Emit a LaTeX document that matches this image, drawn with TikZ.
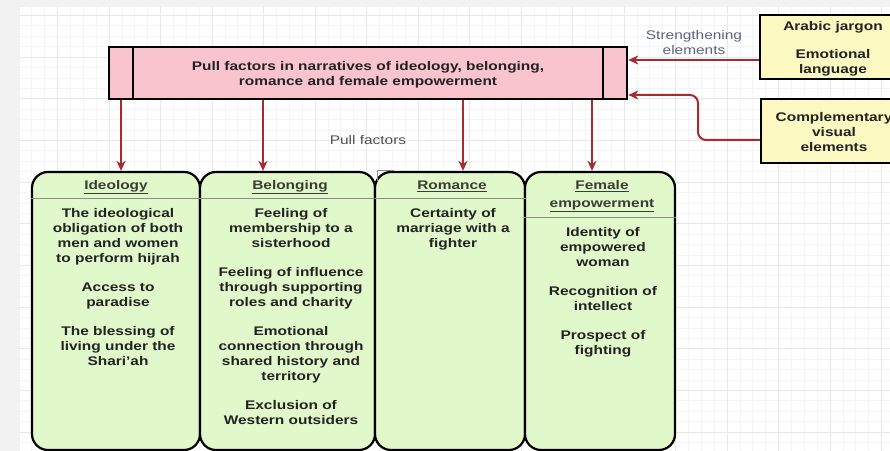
\documentclass[tikz,border=0pt]{standalone}
\usepackage{fontspec}
\setmainfont{Liberation Sans}[FakeStretch=1.235]
\usetikzlibrary{arrows.meta}
\definecolor{pinkfill}{HTML}{F9C4CE}
\definecolor{greenfill}{HTML}{E1F8CB}
\definecolor{yellowfill}{HTML}{FBF8C2}
\definecolor{arrowred}{HTML}{A62A2E}
\definecolor{pagegray}{HTML}{F2F2F2}
\definecolor{gridmajor}{HTML}{E8E8E8}
\definecolor{gridminor}{HTML}{F4F4F4}
\definecolor{labelblue}{HTML}{5A6380}
\definecolor{labelgray}{HTML}{505050}
\definecolor{textdark}{HTML}{222222}
\definecolor{headdark}{HTML}{3A3D32}
\definecolor{divgray}{HTML}{8A8A8A}
\begin{document}
\begin{tikzpicture}[x=1bp,y=-1bp,
  txt/.style={font=\fontsize{12.5bp}{15bp}\selectfont\bfseries, text=textdark, align=center, inner sep=0pt, anchor=north},
  headtxt/.style={font=\fontsize{12.5bp}{18bp}\selectfont\bfseries, text=headdark, align=center, inner sep=0pt, anchor=north},
  lbl/.style={font=\fontsize{12.5bp}{15bp}\selectfont, align=center, inner sep=0pt, anchor=north},
  colbox/.style={draw=black, line width=2.2bp, fill=greenfill, rounded corners=16bp, inner sep=0pt, minimum height=278bp},
  yelbox/.style={draw=black, line width=2.5bp, fill=yellowfill, inner sep=0pt, minimum height=64bp, minimum width=146bp},
  redarrow/.style={draw=arrowred, line width=2bp, -{Stealth[length=10bp,width=9bp,inset=3bp]}},
  divider/.style={draw=divgray, line width=0.8bp},
 ]
\useasboundingbox (0,0) rectangle (890,451);
\clip (0,0) rectangle (890,451);
% page and grid
\fill[pagegray] (0,0) rectangle (890,451);
\fill[white] (20,7) rectangle (890,451);
\foreach \k in {2,...,68} {\draw[gridminor, line width=0.6bp] ({6+12.875*\k},7) -- ({6+12.875*\k},451);}
\foreach \k in {0,...,42} {\draw[gridminor, line width=0.6bp] (20,{15.3+10.4175*\k}) -- (890,{15.3+10.4175*\k});}
\foreach \m in {1,...,17} {\draw[gridmajor, line width=0.8bp] ({6+51.5*\m},7) -- ({6+51.5*\m},451);}
\foreach \m in {0,...,10} {\draw[gridmajor, line width=0.8bp] (20,{15.3+41.67*\m}) -- (890,{15.3+41.67*\m});}

% main pink box
\node[draw=black, line width=2.5bp, fill=pinkfill, minimum width=518bp, minimum height=52bp, inner sep=0pt] (pull) at (368,73) {};
\draw[black, line width=2.2bp] ([xshift=25bp]pull.north west) -- ([xshift=25bp]pull.south west);
\draw[black, line width=2.2bp] ([xshift=-25bp]pull.north east) -- ([xshift=-25bp]pull.south east);
\node[txt] (pulltxt) at (368,61.4) {Pull factors in narratives of ideology, belonging,\\romance and female empowerment};

% yellow boxes
\node[yelbox] (arabic) at (833,47) {};
\node[txt] (arabictxt) at (833,21.4) {Arabic jargon\\[13bp]Emotional\\language};
\node[yelbox] (comp) at (834,131) {};
\node[txt] (comptxt) at (834,112.4) {Complementary\\visual\\elements};

% labels
\node[lbl, text=labelblue] (strength) at (694,30.4) {Strengthening\\elements};
\node[lbl, text=labelgray] (pflabel) at (368,135.4) {Pull factors};

% columns
\node[colbox, minimum width=168bp] (ideo) at (116,311) {};
\node[colbox, minimum width=175bp] (belong) at (287.5,311) {};
\node[colbox, minimum width=150bp] (roman) at (450,311) {};
\node[colbox, minimum width=150bp] (female) at (600,311) {};

% small gray corner at Romance
\draw[divgray, line width=0.6bp] (377,181) -- (377,170.5) -- (394,170.5);

% dividers
\draw[divider] (ideo.west |- 0,198) -- (ideo.east |- 0,198);
\draw[divider] (belong.west |- 0,198) -- (belong.east |- 0,198);
\draw[divider] (roman.west |- 0,198) -- (roman.east |- 0,198);
\draw[divider] (female.west |- 0,217) -- (female.east |- 0,217);

% headers
\node[headtxt] (ideohead) at (116,180.4) {\underline{Ideology}};
\node[headtxt] (belonghead) at (290,180.4) {\underline{Belonging}};
\node[headtxt] (romanhead) at (452,180.4) {\underline{Romance}};
\node[headtxt] (femalehead) at (602,180.4) {\underline{Female}\\\underline{empowerment}};

% bodies
\node[txt] (ideobody) at (118,208.4) {The ideological\\obligation of both\\men and women\\to perform hijrah\\[14bp]Access to\\paradise\\[14bp]The blessing of\\living under the\\Shari'ah};
\node[txt] (belongbody) at (291,208.4) {Feeling of\\membership to a\\sisterhood\\[14bp]Feeling of influence\\through supporting\\roles and charity\\[14bp]Emotional\\connection through\\shared history and\\territory\\[14bp]Exclusion of\\Western outsiders};
\node[txt] (romanbody) at (453,208.4) {Certainty of\\marriage with a\\fighter};
\node[txt] (femalebody) at (603,227.4) {Identity of\\empowered\\woman\\[14bp]Recognition of\\intellect\\[14bp]Prospect of\\fighting};

% arrows
\draw[redarrow] (121,0 |- pull.south) -- (121,0 |- ideo.north);
\draw[redarrow] (263,0 |- pull.south) -- (263,0 |- belong.north);
\draw[redarrow] (463,0 |- pull.south) -- (463,0 |- roman.north);
\draw[redarrow] (592,0 |- pull.south) -- (592,0 |- female.north);
\draw[redarrow] (arabic.west |- 0,60) -- (pull.east |- 0,60);
\draw[redarrow, rounded corners=8bp] (comp.west |- 0,140) -- (698,140) -- (698,95) -- (pull.east |- 0,95);
\end{tikzpicture}
\end{document}
